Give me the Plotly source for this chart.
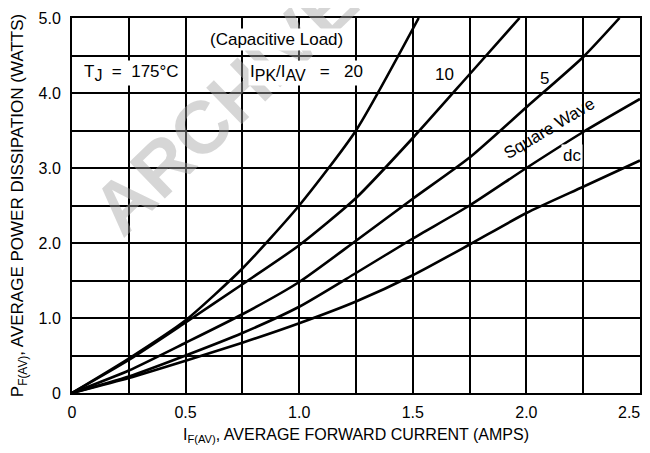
import plotly.graph_objects as go

# Data
x_20 = [0, 0.25, 0.5, 0.75, 1.0, 1.25, 1.526]
y_20 = [0, 0.46, 0.97, 1.66, 2.5, 3.5, 5.0]

x_10 = [0, 0.25, 0.5, 0.75, 1.0, 1.25, 1.5, 1.75, 1.97]
y_10 = [0, 0.44, 0.94, 1.45, 1.97, 2.6, 3.4, 4.25, 5.0]

x_5 = [0, 0.25, 0.5, 0.75, 1.0, 1.25, 1.5, 1.75, 2.0, 2.25, 2.41]
y_5 = [0, 0.3, 0.67, 1.05, 1.48, 2.03, 2.59, 3.14, 3.81, 4.48, 5.0]

x_sq = [0, 0.25, 0.5, 0.75, 1.0, 1.25, 1.5, 1.75, 2.0, 2.25, 2.5]
y_sq = [0, 0.22, 0.5, 0.8, 1.15, 1.6, 2.06, 2.5, 3.0, 3.48, 3.92]

x_dc = [0, 0.25, 0.5, 0.75, 1.0, 1.25, 1.5, 1.75, 2.0, 2.25, 2.5]
y_dc = [0, 0.2, 0.43, 0.67, 0.93, 1.22, 1.57, 1.98, 2.4, 2.75, 3.1]

x_ticks = [0, 0.5, 1.0, 1.5, 2.0, 2.5]
x_tick_labels = ["0", "0.5", "1.0", "1.5", "2.0", "2.5"]
y_ticks = [0, 1, 2, 3, 4, 5]
y_tick_labels = ["0", "1.0", "2.0", "3.0", "4.0", "5.0"]

FONT = "Liberation Sans, Arial, sans-serif"

fig = go.Figure()
for xs, ys in [(x_20, y_20), (x_10, y_10), (x_5, y_5), (x_sq, y_sq), (x_dc, y_dc)]:
    fig.add_trace(go.Scatter(x=xs, y=ys, mode="lines",
                             line=dict(color="black", width=2.6, shape="spline", smoothing=0.6),
                             showlegend=False, hoverinfo="skip"))

SUB = "<sub><span style='font-size:16px'>{}</span></sub>"

annotations = [
    dict(x=0.67, y=3.84, text="<b>ARCHIVE</b>", textangle=-44, showarrow=False,
         font=dict(size=74, color="rgba(165,165,165,0.45)", family=FONT)),
    dict(x=0.9, y=4.71, text="(Capacitive Load)", showarrow=False, bgcolor="white",
         font=dict(size=17, color="black", family=FONT)),
    dict(x=0.26, y=4.27, text="T" + SUB.format("J") + "  =  175°C", showarrow=False, bgcolor="white",
         font=dict(size=17, color="black", family=FONT)),
    dict(x=1.03, y=4.27, text="I" + SUB.format("PK") + "/I" + SUB.format("AV") + "   =   20",
         showarrow=False, bgcolor="white",
         font=dict(size=17, color="black", family=FONT)),
    dict(x=1.64, y=4.25, text="10", showarrow=False,
         font=dict(size=17, color="black", family=FONT)),
    dict(x=2.08, y=4.2, text="5", showarrow=False,
         font=dict(size=17, color="black", family=FONT)),
    dict(x=2.1, y=3.53, text="Square Wave", textangle=-31, showarrow=False,
         font=dict(size=17, color="black", family=FONT)),
    dict(x=2.2, y=3.17, text="dc", showarrow=False, bgcolor="white",
         font=dict(size=17, color="black", family=FONT)),
    # last x tick label, drawn right-aligned so it stays inside the page
    dict(x=x_ticks[-1], y=0, xref="x", yref="paper", yanchor="top", xanchor="right",
         yshift=-9, xshift=2, text=x_tick_labels[-1], showarrow=False,
         font=dict(size=16, color="black", family=FONT)),
]

# The page body has an 8px margin, so the figure is sized and margined to land
# the plot area where the reference has it in the window.
fig.update_layout(
    width=636, height=437,
    margin=dict(l=64, r=4, t=10, b=52),
    paper_bgcolor="white", plot_bgcolor="white",
    font=dict(family=FONT, size=16, color="black"),
    annotations=annotations,
)
fig.update_xaxes(
    range=[0, 2.5], tickvals=x_ticks[:-1], ticktext=x_tick_labels[:-1],
    showgrid=True, gridcolor="black", gridwidth=1.6,
    showline=True, linecolor="black", linewidth=2, mirror=True,
    zeroline=False, ticks="", ticklabelstandoff=4, automargin=False,
    tickfont=dict(size=16, family=FONT),
    title=dict(text="I<sub>F(AV)</sub>, AVERAGE FORWARD CURRENT (AMPS)",
               font=dict(size=16, family=FONT), standoff=12),
    minor=dict(dtick=0.25, showgrid=True, gridcolor="black", gridwidth=1.6),
)
fig.update_yaxes(
    range=[0, 5], tickvals=y_ticks, ticktext=y_tick_labels,
    showgrid=True, gridcolor="black", gridwidth=1.6,
    showline=True, linecolor="black", linewidth=2, mirror=True,
    zeroline=False, ticks="", ticklabelstandoff=6, automargin=False,
    tickfont=dict(size=16, family=FONT),
    title=dict(text="P<sub>F(AV)</sub>, AVERAGE POWER DISSIPATION (WATTS)",
               font=dict(size=17, family=FONT), standoff=28),
    minor=dict(dtick=0.5, showgrid=True, gridcolor="black", gridwidth=1.6),
)

fig.write_html("out.html")
